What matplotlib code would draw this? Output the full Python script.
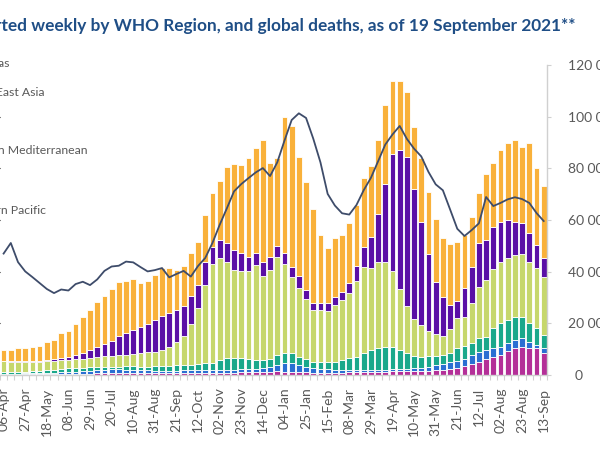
import matplotlib
matplotlib.use("Agg")
import matplotlib.pyplot as plt
import numpy as np
import pandas as pd

# ---------------- data ----------------
weeks = pd.date_range("2020-04-06", "2021-09-13", freq="7D")
week_labels = [d.strftime("%d-%b") for d in weeks]

regions = ["Americas", "South-East Asia", "Europe", "Eastern Mediterranean",
           "Africa", "Western Pacific"]

# weekly cases, thousands
americas = [205, 223, 252, 252, 271, 290, 348, 368, 484, 503, 600, 697, 774, 871, 929, 1007,
            1045, 1007, 987, 852, 832, 871, 929, 871, 774, 774, 832, 832, 910, 1034, 1148, 1471,
            1665, 1698, 1917, 2033, 2356, 1808, 1698, 2645, 2724, 2310, 2097, 1808, 1311, 1065,
            1142, 1098, 1162, 1181, 1324, 1369, 1433, 1529, 1419, 1342, 1247, 1212, 1227, 1206,
            1208, 1142, 1175, 1142, 1032, 968, 956, 1278, 1227, 1388, 1485, 1582, 1471, 1742,
            1485, 1400]
south_east_asia = [8, 10, 12, 15, 17, 21, 25, 35, 46, 62, 83, 116, 151, 194, 238, 287, 374, 422,
                   469, 513, 552, 610, 658, 658, 620, 581, 542, 445, 445, 335, 354, 356, 387, 348,
                   271, 227, 277, 257, 207, 207, 194, 238, 180, 141, 141, 143, 149, 161, 182, 285,
                   387, 612, 923, 1504, 2259, 2697, 2890, 2517, 2000, 1485, 1013, 749, 470, 341,
                   561, 697, 852, 774, 825, 774, 741, 645, 600, 550, 451, 356]
europe = [215, 194, 201, 190, 180, 168, 174, 170, 166, 161, 168, 166, 186, 197, 207, 213, 219,
          227, 238, 254, 273, 288, 314, 364, 453, 561, 786, 1084, 1520, 1922, 1969, 1870, 1709,
          1696, 1715, 1839, 1626, 1729, 1903, 1729, 1483, 1324, 1162, 1001, 1001, 987, 1098, 1162,
          1270, 1471, 1677, 1582, 1677, 1646, 1483, 1175, 916, 711, 614, 490, 426, 368, 465, 575,
          556, 786, 999, 1098, 1142, 1193, 1195, 1206, 1208, 1193, 1162, 1129]
eastern_mediterranean = [28, 31, 29, 35, 41, 45, 50, 58, 64, 68, 68, 66, 62, 58, 54, 52, 54, 60,
                         64, 70, 74, 79, 85, 93, 99, 105, 110, 120, 126, 136, 194, 221, 219, 213,
                         188, 166, 155, 149, 203, 194, 188, 151, 139, 122, 141, 151, 157, 190, 223,
                         254, 319, 383, 416, 447, 430, 368, 294, 232, 209, 203, 184, 174, 174, 252,
                         242, 236, 265, 257, 381, 453, 455, 449, 418, 362, 323, 257]
africa = [6, 8, 12, 15, 19, 23, 27, 31, 35, 39, 46, 54, 58, 62, 66, 68, 66, 60, 56, 50, 48, 48,
          46, 46, 48, 50, 52, 54, 54, 48, 52, 56, 56, 60, 62, 66, 74, 89, 116, 163, 170, 145, 112,
          89, 72, 62, 54, 52, 50, 48, 46, 43, 39, 35, 39, 45, 48, 54, 62, 77, 93, 116, 130, 145,
          145, 165, 184, 174, 174, 161, 155, 155, 168, 106, 64, 97]
western_pacific = [22, 19, 17, 15, 14, 14, 14, 15, 17, 19, 21, 23, 27, 31, 35, 39, 43, 45, 45,
                   43, 41, 39, 39, 39, 39, 39, 39, 39, 43, 43, 45, 46, 48, 50, 54, 58, 62, 66, 68,
                   64, 62, 58, 52, 46, 45, 45, 46, 48, 50, 52, 54, 58, 62, 66, 68, 72, 77, 81, 83,
                   87, 91, 97, 116, 126, 174, 213, 261, 310, 348, 387, 455, 513, 542, 532, 517, 420]

# weekly global deaths, thousands
deaths = [47.0, 51.1, 43.7, 40.1, 37.9, 35.6, 33.3, 31.7, 33.1, 32.7, 35.2, 36.1, 34.8, 37.0,
          40.3, 42.0, 42.3, 43.9, 43.6, 41.8, 40.1, 40.6, 41.4, 37.8, 39.1, 40.3, 38.1, 42.2,
          45.3, 51.1, 58.1, 64.5, 71.1, 73.9, 76.2, 78.4, 80.1, 77.0, 82.3, 90.7, 98.7, 101.3,
          99.5, 91.5, 82.3, 70.1, 65.6, 62.6, 62.1, 65.8, 71.5, 76.3, 82.7, 89.2, 93.1, 96.4,
          91.4, 87.6, 84.6, 78.6, 73.8, 71.5, 64.1, 56.6, 53.8, 56.1, 58.7, 68.9, 65.4, 66.6,
          68.0, 68.8, 68.1, 66.6, 62.7, 59.6]

death_ticks = [0, 20000, 40000, 60000, 80000, 100000, 120000]
death_tick_labels = ["  0", "20 000", "40 000", "60 000", "80 000", "100 000", "120 000"]

title = ("Figure 1: COVID-19 cases reported weekly by WHO Region, and global deaths, "
         "as of 19 September 2021**")
title_visible = "ted weekly by WHO Region, and global deaths, as of 19 September 2021**"

# ---------------- style ----------------
colors = {
    "Americas": "#F9B13A",
    "South-East Asia": "#5A0FA6",
    "Europe": "#C6D76C",
    "Eastern Mediterranean": "#1AA88B",
    "Africa": "#2A6FD2",
    "Western Pacific": "#B42F98",
}
line_color = "#3E4C6A"
grey_text = "#595959"
axis_grey = "#D0D0D0"
title_color = "#1F4E86"

plt.rcParams['font.family'] = ['Lato', 'DejaVu Sans']

W, H = 600, 450
fig = plt.figure(figsize=(W / 100, H / 100), dpi=100)

# pixel geometry of the (cropped) plot area
px_step = 7.32
px_first = -4.0
x_right = 547.3
y_bottom, y_top = 375.0, 65.0

ax = fig.add_axes([0, 1 - y_bottom / H, x_right / W, (y_bottom - y_top) / H])
x = np.arange(len(weeks))
ax.set_xlim((0 - px_first) / px_step, (x_right - px_first) / px_step)
ax.set_ylim(0, 6000)

series = {
    "Western Pacific": western_pacific,
    "Africa": africa,
    "Eastern Mediterranean": eastern_mediterranean,
    "Europe": europe,
    "South-East Asia": south_east_asia,
    "Americas": americas,
}
bottom = np.zeros(len(weeks))
for name, vals in series.items():
    v = np.array(vals, dtype=float)
    ax.bar(x, v, bottom=bottom, width=0.8, color=colors[name],
           edgecolor="white", linewidth=0.6, zorder=2)
    bottom += v

for s in ["top", "left", "right"]:
    ax.spines[s].set_visible(False)
ax.spines["bottom"].set_color(axis_grey)
ax.spines["bottom"].set_linewidth(1.0)
ax.tick_params(axis="y", left=False, labelleft=False)
ax.set_xticks(x[::3])
ax.set_xticklabels(week_labels[::3], rotation=90, fontsize=10, color=grey_text)
ax.tick_params(axis="x", which="major", length=0, pad=9)
ax.set_xticks(np.arange(-0.5, len(weeks) + 0.5, 1.0), minor=True)
ax.tick_params(axis="x", which="minor", length=3.5, color=axis_grey, width=0.8)

ax2 = ax.twinx()
ax2.set_ylim(0, 120000)
ax2.plot(x, np.array(deaths) * 1000, color=line_color, lw=1.3, zorder=3)
for s in ["top", "left", "bottom"]:
    ax2.spines[s].set_visible(False)
ax2.spines["right"].set_color(axis_grey)
ax2.spines["right"].set_linewidth(1.0)
ax2.set_yticks(death_ticks)
ax2.set_yticklabels(death_tick_labels, fontsize=10, color=grey_text)
ax2.tick_params(axis="y", direction="out", length=3, color=axis_grey, pad=12)

# ---------------- texts (cropped like the reference) ----------------
fig.canvas.draw()
renderer = fig.canvas.get_renderer()


def text_width(s, **kw):
    t = fig.text(0, 0, s, **kw)
    w = t.get_window_extent(renderer).width
    t.remove()
    return w


# title, right-aligned so that its start falls outside the figure
w10 = text_width(title_visible, fontsize=10, weight="bold")
title_size = 10 * 574 / w10
fig.text(576 / W, 1 - 26 / H, title, ha="right", va="center", fontsize=title_size,
         weight="bold", color=title_color)

# legend (left part cut off by the crop): right ends of each entry, in pixels
w_med = text_width("Mediterranean", fontsize=10)
legend_size = 10 * 80 / w_med
legend_end_x = [10, 45, -4, 88, -4, 46]
legend_y = [63.5, 93, 122, 151, 180.5, 210]
for name, xe, yy in zip(regions, legend_end_x, legend_y):
    fig.text(xe / W, 1 - yy / H, name, ha="right", va="center", fontsize=legend_size,
             color=grey_text)

fig.savefig("out.png", dpi=100)
